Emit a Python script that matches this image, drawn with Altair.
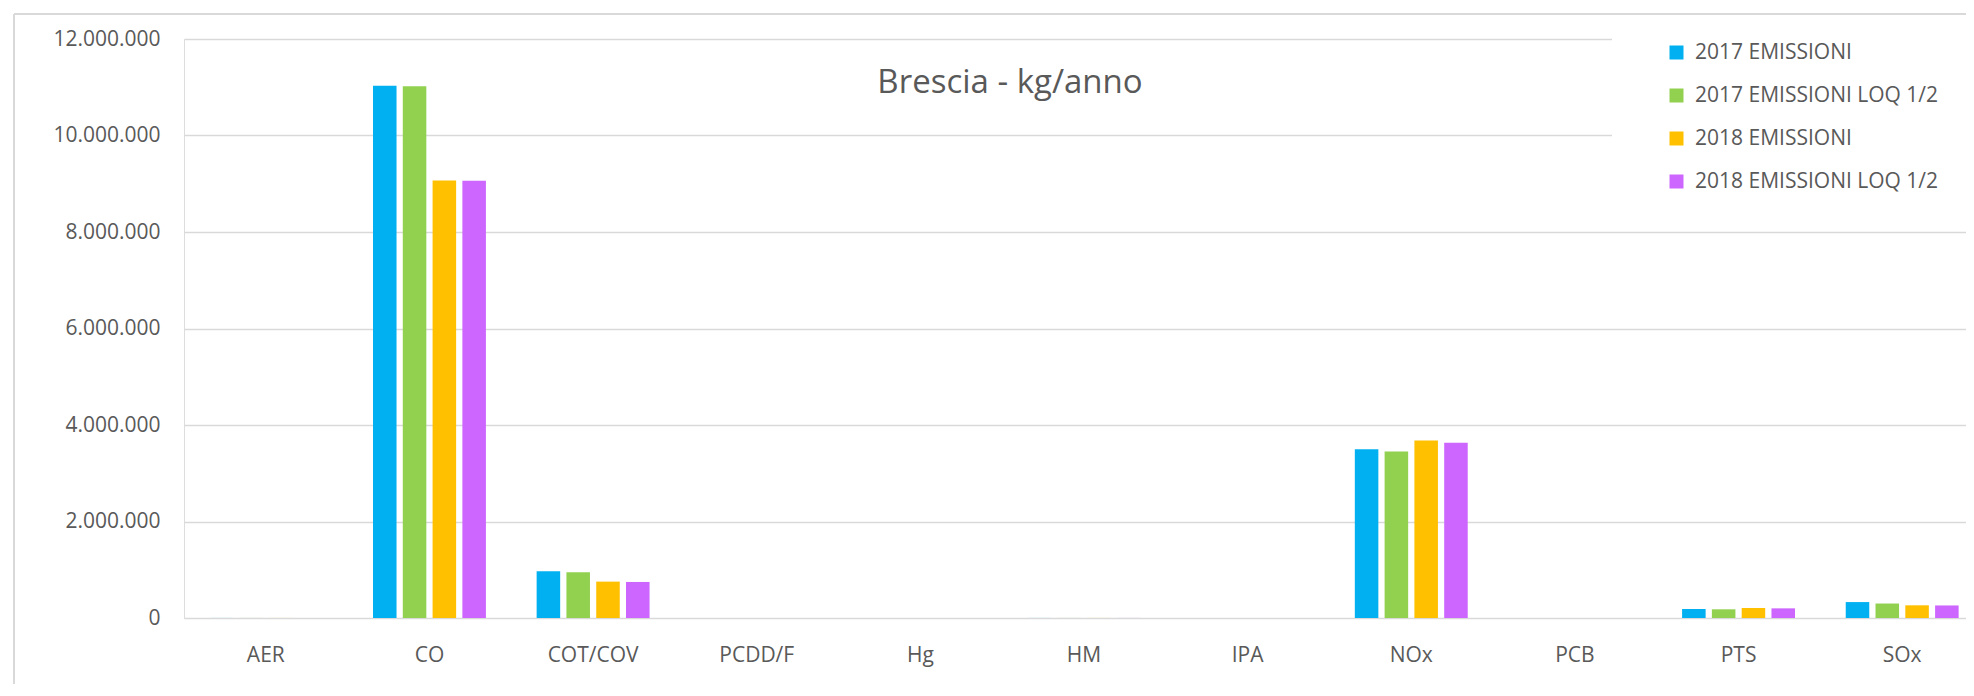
import altair as alt
import pandas as pd

categories = ["AER", "CO", "COT/COV", "PCDD/F", "Hg", "HM", "IPA", "NOx", "PCB", "PTS", "SOx"]
series = ["2017 EMISSIONI", "2017  EMISSIONI LOQ 1/2", "2018 EMISSIONI", "2018  EMISSIONI LOQ 1/2"]
colors = ["#00B0F0", "#92D050", "#FFC000", "#CC66FF"]
title_text = "Brescia - kg/anno"

em_2017 = [900, 11030000, 968000, 0.0005, 25, 950, 12, 3500000, 18, 187000, 330000]
loq_2017 = [900, 11020000, 947000, 0.0006, 26, 980, 14, 3450000, 20, 180000, 300000]
em_2018 = [850, 9065000, 754000, 0.0004, 22, 900, 11, 3680000, 16, 207000, 263000]
loq_2018 = [850, 9060000, 747000, 0.0005, 23, 930, 13, 3630000, 18, 200000, 260000]

rows = []
for s, vals in zip(series, [em_2017, loq_2017, em_2018, loq_2018]):
    for c, v in zip(categories, vals):
        rows.append({"cat": c, "serie": s, "val": v})
df = pd.DataFrame(rows)

FONT = "Open Sans"
GRAY = "#595959"

bars = alt.Chart(df).mark_bar().encode(
    x=alt.X("cat:N", sort=categories, title=None,
            scale=alt.Scale(domain=categories, range=[0, 1800], paddingInner=0.31, paddingOuter=0.155),
            axis=alt.Axis(labelAngle=0, labelFont=FONT, labelFontSize=21, labelColor=GRAY,
                          ticks=False, domain=False, labelPadding=26)),
    xOffset=alt.XOffset("serie:N", sort=series,
                        scale=alt.Scale(domain=series, paddingInner=0.21, paddingOuter=0)),
    y=alt.Y("val:Q", title=None,
            scale=alt.Scale(domain=[0, 12000000], nice=False),
            axis=alt.Axis(values=[0, 2000000, 4000000, 6000000, 8000000, 10000000, 12000000],
                          labelExpr="replace(format(datum.value, ','), /,/g, '.')",
                          labelFont=FONT, labelFontSize=21, labelColor=GRAY,
                          ticks=False, domain=False, labelPadding=24,
                          grid=True, gridColor="#d9d9d9", gridWidth=1.5)),
    color=alt.Color("serie:N", sort=series,
                    scale=alt.Scale(domain=series, range=colors),
                    legend=alt.Legend(title=None, orient="none", legendX=1462, legendY=-17,
                                      symbolType="square", symbolSize=196, symbolStrokeWidth=0,
                                      labelFont=FONT, labelFontSize=21, labelColor=GRAY,
                                      rowPadding=21, fillColor="white", padding=20,
                                      labelOffset=8, labelLimit=500)),
)

frame_top = alt.Chart(df).mark_rule(color="#d9d9d9", strokeWidth=1.5).encode(
    x=alt.value(-170), x2=alt.value(1790), y=alt.value(-25))
frame_left = alt.Chart(df).mark_rule(color="#d9d9d9", strokeWidth=1.5).encode(
    x=alt.value(-170), y=alt.value(-25), y2=alt.value(660))

legend_bg = alt.Chart(pd.DataFrame({"t": [0]})).mark_rect(color="white").encode(
    x=alt.value(1428), x2=alt.value(1800), y=alt.value(-15), y2=alt.value(180))

title = alt.Chart(pd.DataFrame({"t": [title_text]})).mark_text(
    font=FONT, fontSize=33, color=GRAY, align="center", baseline="alphabetic"
).encode(x=alt.value(826), y=alt.value(54), text="t:N")

chart = alt.layer(frame_top, frame_left, legend_bg, bars, title).properties(
    width=1782, height=579,
    autosize=alt.AutoSizeParams(type="none"),
    padding={"left": 176, "top": 31, "right": 0, "bottom": 66},
).configure_view(stroke=None).configure(background="white")

chart.save("out.html", embed_options={"renderer": "svg", "actions": False})
